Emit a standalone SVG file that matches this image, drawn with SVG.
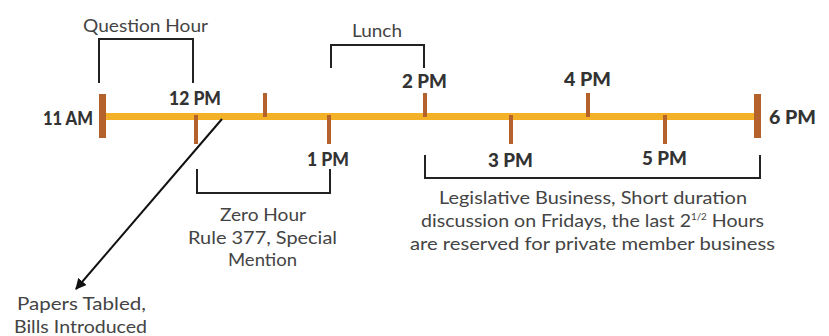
<svg xmlns="http://www.w3.org/2000/svg" width="829" height="336" viewBox="0 0 829 336">
<defs>
<style>
.axis{stroke:#F2B126;stroke-width:7;fill:none}
.tick{stroke:#B5612B;stroke-width:4;fill:none}
.end{stroke:#B5612B;stroke-width:7;fill:none}
.br{stroke:#222;stroke-width:2;fill:none}
.lbl{font-family:Lato,"Liberation Sans",sans-serif;font-weight:900;font-size:18px;fill:#333}
.txt{font-family:Lato,"Liberation Sans",sans-serif;font-weight:400;font-size:18px;fill:#444}
</style>
<marker id="ah" viewBox="0 0 10 10" refX="9" refY="5" markerWidth="11" markerHeight="11" markerUnits="userSpaceOnUse" orient="auto">
<path d="M0,0 L10,5 L0,10 z" fill="#111"/>
</marker>
</defs>
<rect width="829" height="336" fill="#fff"/>
<g id="timeline">
<line class="axis" x1="103" y1="116.5" x2="757" y2="116.5"/>
<line class="end" x1="102.5" y1="94" x2="102.5" y2="138"/>
<line class="end" x1="757.5" y1="94" x2="757.5" y2="138"/>
<line class="tick" x1="196" y1="115" x2="196" y2="144"/>
<line class="tick" x1="265" y1="93" x2="265" y2="117"/>
<line class="tick" x1="329" y1="115" x2="329" y2="144"/>
<line class="tick" x1="425" y1="93" x2="425" y2="117"/>
<line class="tick" x1="511" y1="115" x2="511" y2="144"/>
<line class="tick" x1="588" y1="93" x2="588" y2="117"/>
<line class="tick" x1="665" y1="115" x2="665" y2="144"/>
</g>
<g id="time-labels">
<text class="lbl" x="43" y="125" textLength="50" lengthAdjust="spacingAndGlyphs">11 AM</text>
<text class="lbl" x="169" y="105" textLength="52" lengthAdjust="spacingAndGlyphs">12 PM</text>
<text class="lbl" x="307" y="166" textLength="42" lengthAdjust="spacingAndGlyphs">1 PM</text>
<text class="lbl" x="402" y="88" textLength="45" lengthAdjust="spacingAndGlyphs">2 PM</text>
<text class="lbl" x="488" y="167" textLength="45" lengthAdjust="spacingAndGlyphs">3 PM</text>
<text class="lbl" x="564" y="86" textLength="47" lengthAdjust="spacingAndGlyphs">4 PM</text>
<text class="lbl" x="642" y="165" textLength="45" lengthAdjust="spacingAndGlyphs">5 PM</text>
<text class="lbl" x="769" y="124" textLength="47" lengthAdjust="spacingAndGlyphs">6 PM</text>
</g>
<g id="question-hour">
<path class="br" d="M99,83 V39 H193 V83"/>
<text class="txt" x="83" y="32" font-size="19" textLength="125" lengthAdjust="spacingAndGlyphs">Question Hour</text>
</g>
<g id="lunch">
<path class="br" d="M331,68 V45 H424 V68"/>
<text class="txt" x="352" y="37" textLength="50" lengthAdjust="spacingAndGlyphs">Lunch</text>
</g>
<g id="zero-hour">
<path class="br" d="M197,169 V193 H330 V169"/>
<text class="txt" x="220" y="221" textLength="86" lengthAdjust="spacingAndGlyphs">Zero Hour</text>
<text class="txt" x="188" y="244" textLength="149" lengthAdjust="spacingAndGlyphs">Rule 377, Special</text>
<text class="txt" x="228" y="266" textLength="69" lengthAdjust="spacingAndGlyphs">Mention</text>
</g>
<g id="legislative">
<path class="br" d="M425,155 V178 H760 V155"/>
<text class="txt" x="439" y="204" textLength="308" lengthAdjust="spacingAndGlyphs">Legislative Business, Short duration</text>
<text class="txt" x="421" y="227" textLength="343" lengthAdjust="spacingAndGlyphs">discussion on Fridays, the last 2<tspan font-size="9" dy="-7">1/2</tspan><tspan dy="7"> Hours</tspan></text>
<text class="txt" x="410" y="250" textLength="365" lengthAdjust="spacingAndGlyphs">are reserved for private member business</text>
</g>
<g id="papers">
<text class="txt" x="17" y="310" textLength="129" lengthAdjust="spacingAndGlyphs">Papers Tabled,</text>
<text class="txt" x="14" y="333" textLength="133" lengthAdjust="spacingAndGlyphs">Bills Introduced</text>
</g>
<g id="connectors">
<line x1="222" y1="119" x2="76" y2="289" stroke="#111" stroke-width="2" marker-end="url(#ah)"/>
</g>
</svg>
